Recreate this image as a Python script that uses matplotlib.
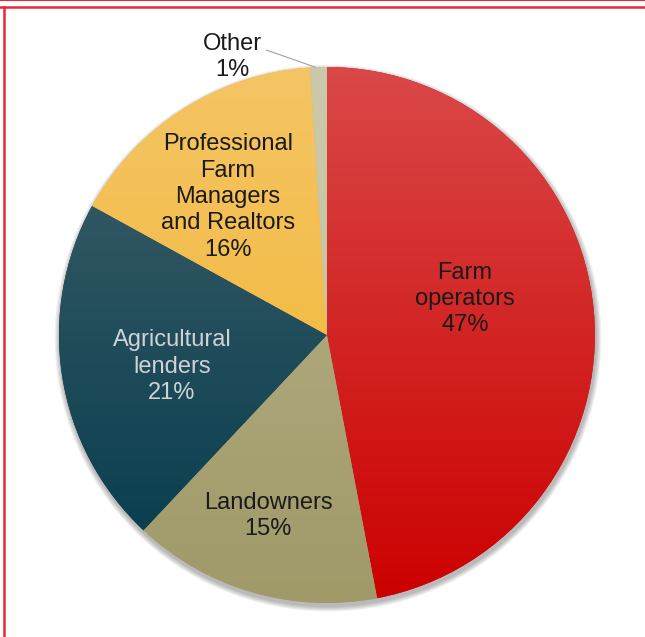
import numpy as np
import matplotlib
matplotlib.use("Agg")
import matplotlib.pyplot as plt
from matplotlib.colors import LinearSegmentedColormap
from matplotlib.lines import Line2D
from matplotlib.patches import Circle

# ==== Dados ====
labels = ["Farm\noperators\n47%", "Landowners\n15%", "Agricultural\nlenders\n21%",
          "Professional\nFarm\nManagers\nand Realtors\n16%", "Other\n1%"]
shares = [47, 15, 21, 16, 1]
top_colors = ["#da4848", "#b9b38a", "#41606b", "#f5c565", "#cbc9a9"]
bottom_colors = ["#cc0000", "#a09a69", "#023a4b", "#f2b42a", "#c2c09e"]
text_colors = ["#1a1a1a", "#1a1a1a", "#cfd3d4", "#1a1a1a", "#1a1a1a"]
label_xy = [(0.515, 0.134), (-0.220, -0.675), (-0.578, -0.119), (-0.369, 0.515), (-0.354, 1.037)]

plt.rcParams["font.family"] = ["Liberation Sans", "DejaVu Sans"]

fig = plt.figure(figsize=(6.45, 6.37), dpi=100)
ax = fig.add_axes([0, 0, 1, 1])

# sombra leve
for k in range(1, 6):
    ax.add_patch(Circle((0.004, -0.012), 1.0 + 0.004 * k, color="#000000",
                        alpha=0.06, lw=0, zorder=0))

wedges, _ = ax.pie(shares, startangle=90, counterclock=False, radius=1.0,
                   colors=bottom_colors, wedgeprops=dict(linewidth=0, zorder=1))

# gradiente vertical em cada fatia
grad = np.linspace(1, 0, 256).reshape(-1, 1)
for w, ct, cb in zip(wedges, top_colors, bottom_colors):
    cmap = LinearSegmentedColormap.from_list("g", [cb, ct])
    im = ax.imshow(grad, cmap=cmap, extent=(-1, 1, -1, 1), origin="upper",
                   aspect="auto", zorder=2, interpolation="bilinear")
    im.set_clip_path(w)

for txt, (x, y), c in zip(labels, label_xy, text_colors):
    ax.text(x, y, txt, ha="center", va="center", fontsize=17, color=c,
            linespacing=1.26, zorder=5)

# linha de chamada do "Other"
ax.plot([-0.225, -0.045], [1.063, 1.0], color="#a0a0a0", lw=0.8, zorder=5)

ax.set_aspect("equal")
ax.set_xlim(-1.220, 1.187)
ax.set_ylim(-1.127, 1.250)
ax.axis("off")

# moldura vermelha
red = "#e8283a"
fig.add_artist(Line2D([0, 1], [1 - 6.5 / 637, 1 - 6.5 / 637], color=red, lw=1.8))
fig.add_artist(Line2D([0, 1], [0.9995, 0.9995], color=red, lw=0.8))
fig.add_artist(Line2D([3.5 / 645, 3.5 / 645], [0, 1 - 6.5 / 637], color=red, lw=1.8))

fig.savefig("out.png", dpi=100)
